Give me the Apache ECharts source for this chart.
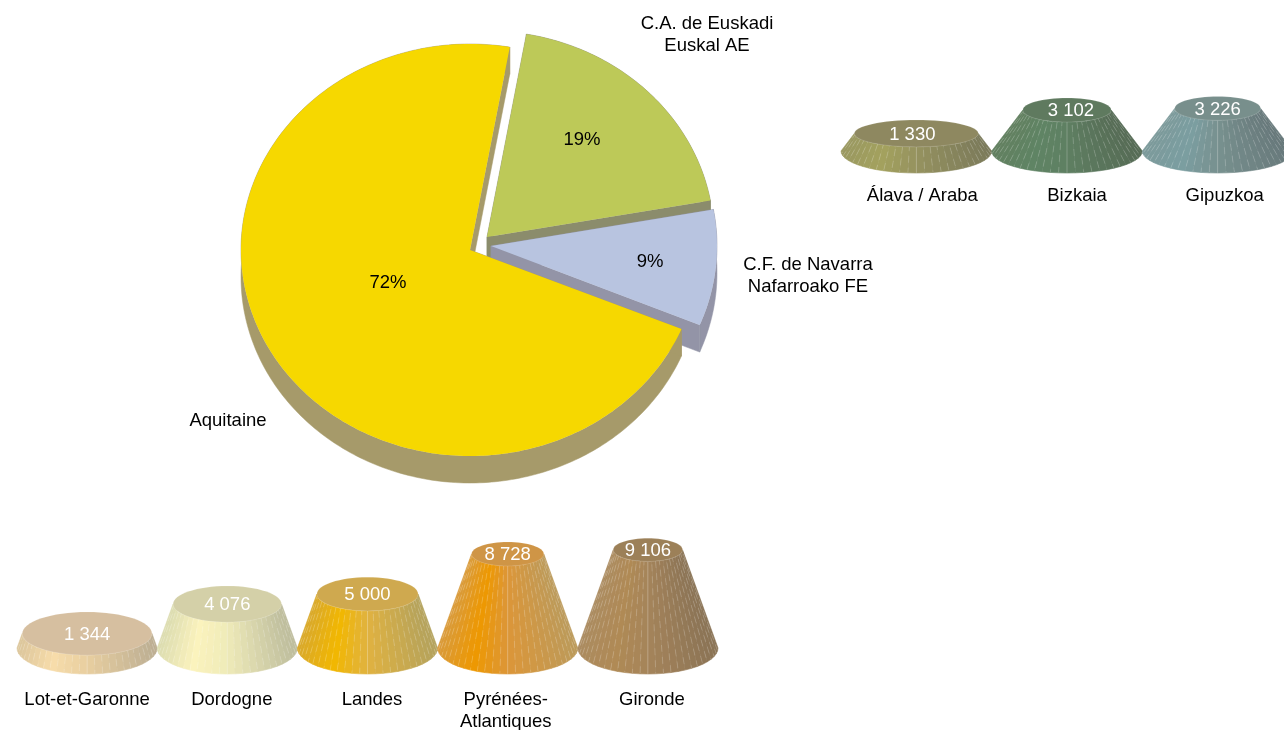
<!DOCTYPE html>
<html>
<head>
<meta charset="utf-8">
<style>
  html, body { margin: 0; background: #fff; }
  #main { width: 1284px; height: 730px; }
</style>
<script src="https://cdn.jsdelivr.net/npm/echarts@6/dist/echarts.min.js"></script>
</head>
<body>
<div id="main"></div>
<script>
// pie, clockwise from the top
const pieNames = ['C.A. de Euskadi\nEuskal AE', 'C.F. de Navarra\nNafarroako FE', 'Aquitaine']
const pieValues = [7658, 3600, 28254]

// cones under the pie
const aquitaineNames = ['Lot-et-Garonne', 'Dordogne', 'Landes', 'Pyrénées-\nAtlantiques', 'Gironde']
const aquitaineValues = [1344, 4076, 5000, 8728, 9106]

// cones at the right
const euskadiNames = ['Álava / Araba', 'Bizkaia', 'Gipuzkoa']
const euskadiValues = [1330, 3102, 3226]

// style of the pie
const pieFill = ['#bdc958', '#b8c4e0', '#f6d800']
const pieSide = ['#8b8c6c', '#9394a7', '#a69a6a']
const pieApex = [[487, 237], [491, 246], [470, 250]]
const pieRadius = [227, 226, 229]
const pctShift = [[95, -97], [159, 16], [-82, 33]]
const nameShift = [[220, -202], [317, 30], [-242, 171]]
const pieRy = 206
const pieDepth = 27
const pieStart = 10

// cone colours: top, then side left, brightest, middle, right
const aquitaineColors = [
  ['#d6bfa0', '#dcc69c', '#f7dcaa', '#e8cfa0', '#bcae92'],
  ['#d4d0a8', '#dcdcb0', '#fbf3bd', '#efebb9', '#bdbc9c'],
  ['#cfa94f', '#d9a92a', '#f2b700', '#e0b240', '#b4a25c'],
  ['#cf9546', '#d99a3a', '#ee9800', '#dc9638', '#bc9a5a'],
  ['#9c8058', '#ab8b60', '#b08a55', '#a5845a', '#8a7355']
]
const euskadiColors = [
  ['#8e8860', '#9a9860', '#a3a25e', '#95925f', '#7b7a5a'],
  ['#5f7a5f', '#628060', '#5f8464', '#5e7f62', '#566b55'],
  ['#788f8c', '#7c9a9b', '#7b9ea1', '#78918f', '#67787a']
]
const aquitaineShift = [0, 4.5, 4.5, -2, 4]
const euskadiShift = [6, 10, 7]
const aquitaineValueShift = [0, 0, 0, 0, 0]
const euskadiValueShift = [-4, 4, 0]

const font = '18.5px "Liberation Sans", Arial, sans-serif'
const facets = 28

const total = pieValues.reduce((a, b) => a + b, 0)

function arcPoint(i, deg, dy) {
  const a = deg * Math.PI / 180
  return [pieApex[i][0] + pieRadius[i] * Math.sin(a), pieApex[i][1] - pieRy * Math.cos(a) + dy]
}

function renderSlice(params, api) {
  const i = params.dataIndex
  const from = pieValues.slice(0, i).reduce((a, b) => a + b, pieStart * total / 360) / total * 360
  const to = from + api.value(0) / total * 360
  const apex = pieApex[i]
  const arc = []
  const arcLow = []
  for (let d = from; d < to; d += 1) {
    arc.push(arcPoint(i, d, 0))
    arcLow.push(arcPoint(i, d, pieDepth))
  }
  arc.push(arcPoint(i, to, 0))
  arcLow.push(arcPoint(i, to, pieDepth))
  const low = [apex[0], apex[1] + pieDepth]
  const side = { fill: pieSide[i], stroke: pieSide[i], lineWidth: 0.5 }
  return {
    type: 'group',
    children: [
      { type: 'polygon', shape: { points: arc.concat(arcLow.slice().reverse()) }, style: side },
      { type: 'polygon', shape: { points: [apex, arc[0], arcLow[0], low] }, style: side },
      { type: 'polygon', shape: { points: [apex, arc[arc.length - 1], arcLow[arcLow.length - 1], low] }, style: side },
      { type: 'polygon', shape: { points: [apex].concat(arc) }, style: { fill: pieFill[i] } },
      {
        type: 'text',
        style: {
          x: apex[0] + pctShift[i][0],
          y: apex[1] + pctShift[i][1],
          text: Math.round(api.value(0) / total * 100) + '%',
          font: font,
          fill: '#000',
          align: 'center',
          verticalAlign: 'middle'
        }
      },
      {
        type: 'text',
        style: {
          x: apex[0] + nameShift[i][0],
          y: apex[1] + nameShift[i][1],
          text: pieNames[i],
          font: font,
          lineHeight: 22,
          fill: '#000',
          align: 'center',
          verticalAlign: 'middle'
        }
      }
    ]
  }
}

function sideColor(stops, t) {
  if (t < 0.25) return echarts.color.lerp(t / 0.25, [stops[1], stops[2]])
  if (t < 0.5) return echarts.color.lerp((t - 0.25) / 0.25, [stops[2], stops[3]])
  return echarts.color.lerp((t - 0.5) / 0.5, [stops[3], stops[4]])
}

// apex is the value at which the cone would close to a point
function coneRenderer(colors, baseRy, apex, topRy, valueShift) {
  return function (params, api) {
    const stops = colors[params.dataIndex]
    const value = api.value(1)
    const base = api.coord([api.value(0), 0])
    const top = api.coord([api.value(0), value])
    const rx = api.size([1, 0])[0] / 2
    const rxTop = rx * (1 - value / apex)
    const ryTop = topRy(rxTop)
    const children = []
    for (let k = 0; k < facets; k++) {
      const a = Math.PI - Math.PI * k / facets
      const b = Math.PI - Math.PI * (k + 1) / facets
      const color = sideColor(stops, (1 + Math.cos((a + b) / 2)) / 2)
      children.push({
        type: 'polygon',
        shape: {
          points: [
            [base[0] + rxTop * Math.cos(a), top[1] + ryTop * Math.sin(a)],
            [base[0] + rxTop * Math.cos(b), top[1] + ryTop * Math.sin(b)],
            [base[0] + rx * Math.cos(b), base[1] + baseRy * Math.sin(b)],
            [base[0] + rx * Math.cos(a), base[1] + baseRy * Math.sin(a)]
          ]
        },
        style: { fill: color, stroke: color, lineWidth: 0.6 }
      })
    }
    for (let k = 1; k < facets; k++) {
      const a = Math.PI - Math.PI * k / facets
      const centre = k === facets / 2
      children.push({
        type: 'line',
        shape: {
          x1: base[0] + rxTop * Math.cos(a),
          y1: top[1] + ryTop * Math.sin(a),
          x2: base[0] + rx * Math.cos(a),
          y2: base[1] + baseRy * Math.sin(a)
        },
        style: {
          stroke: centre ? 'rgba(255,255,255,0.4)' : 'rgba(255,255,255,0.3)',
          lineWidth: 0.6,
          lineDash: centre ? null : [7, 5],
          lineDashOffset: k * 3
        }
      })
    }
    children.push({
      type: 'ellipse',
      shape: { cx: base[0], cy: top[1], rx: rxTop, ry: ryTop },
      style: { fill: stops[0], stroke: 'rgba(255,255,255,0.25)', lineWidth: 0.5 }
    })
    children.push({
      type: 'text',
      style: {
        x: base[0] + valueShift[params.dataIndex],
        y: top[1] + 1,
        text: String(value).replace(/(\d)(\d{3})$/, '$1 $2'),
        font: font,
        fill: '#fff',
        align: 'center',
        verticalAlign: 'middle'
      }
    })
    return { type: 'group', children: children }
  }
}

function categories(names, shift) {
  return names.map((name, i) => ({
    value: name,
    textStyle: {
      padding: shift[i] >= 0 ? [0, 0, 0, shift[i] * 2] : [0, -shift[i] * 2, 0, 0]
    }
  }))
}

function catAxis(gridIndex, names, shift, margin) {
  return {
    type: 'category',
    gridIndex: gridIndex,
    data: categories(names, shift),
    axisLine: { show: false },
    axisTick: { show: false },
    axisLabel: {
      interval: 0,
      margin: margin,
      color: '#000',
      fontSize: 18.5,
      fontFamily: '"Liberation Sans", Arial, sans-serif',
      lineHeight: 22
    }
  }
}

const chart = echarts.init(document.getElementById('main'))
chart.setOption({
  animation: false,
  tooltip: { show: false },
  grid: [
    { left: 17, top: 454, width: 701, height: 194, outerBoundsMode: 'none' },
    { left: 841, top: 52, width: 452, height: 99, outerBoundsMode: 'none' }
  ],
  xAxis: [
    catAxis(0, aquitaineNames, aquitaineShift, 41),
    catAxis(1, euskadiNames, euskadiShift, 34)
  ],
  yAxis: [
    { type: 'value', gridIndex: 0, min: 0, max: 18000, show: false },
    { type: 'value', gridIndex: 1, min: 0, max: 7500, show: false }
  ],
  series: [
    {
      type: 'custom',
      coordinateSystem: 'none',
      silent: true,
      renderItem: renderSlice,
      data: pieValues.map(v => [v])
    },
    {
      type: 'custom',
      xAxisIndex: 0,
      yAxisIndex: 0,
      silent: true,
      clip: false,
      encode: { x: 0, y: 1 },
      renderItem: coneRenderer(aquitaineColors, 26, 18000, rx => rx / 3, aquitaineValueShift),
      data: aquitaineValues.map((v, i) => [i, v])
    },
    {
      type: 'custom',
      xAxisIndex: 1,
      yAxisIndex: 1,
      silent: true,
      clip: false,
      encode: { x: 0, y: 1 },
      renderItem: coneRenderer(euskadiColors, 22, 7500, rx => 12 + (rx - 44) * 0.08, euskadiValueShift),
      data: euskadiValues.map((v, i) => [i, v])
    }
  ]
})
</script>
</body>
</html>
